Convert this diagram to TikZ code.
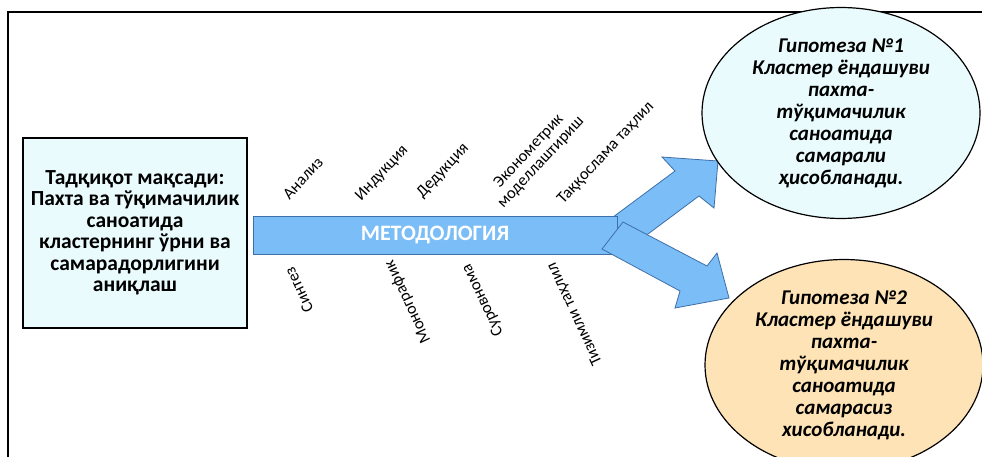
\documentclass[tikz,border=0pt]{standalone}
\usepackage{fontspec}
\setmainfont{Carlito}
\usepackage{tikz}
\usetikzlibrary{shapes.geometric}
\usetikzlibrary{positioning}
\definecolor{goalfill}{HTML}{EAFBFD}
\definecolor{peach}{HTML}{FDE3B5}
\definecolor{bandfill}{HTML}{7BBDF6}
\definecolor{bandline}{HTML}{3F6FA8}
\tikzstyle{goal}=[draw=black, line width=1.5pt, fill=goalfill, minimum width=224pt,
                minimum height=190pt, align=center, font=\fontsize{21.5}{21.5}\selectfont\bfseries]
\tikzstyle{hyp}=[ellipse, draw=black, line width=1.2pt, minimum width=278pt,
                minimum height=172pt, inner sep=0pt, align=center,
                font=\fontsize{21}{22}\selectfont\bfseries\itshape]
\tikzstyle{meth}=[font=\fontsize{16.5}{16.5}\selectfont, align=center, inner sep=1pt]
\tikzstyle{band}=[draw=bandline, line width=0.8pt, fill=bandfill]

\begin{document}
\begin{tikzpicture}[x=1pt,y=-1pt]
\useasboundingbox (0,0) rectangle (982,457);
\draw[line width=2pt] (8,457) -- (8,12) -- (982,12);
\node (goal) at (135,233)[goal]{Тадқиқот мақсади:\\Пахта ва тўқимачилик\\саноатида\\
  кластернинг ўрни ва\\самарадорлигини\\аниқлаш};
\draw[band] (605,223) -- (675,171) -- (662,157) -- (718,161) -- (714,208)
  -- (699,196) -- (648,234) -- (612,245) -- cycle;
\node (bar) at (435,235)[band, minimum width=364pt, minimum height=38pt, inner sep=0pt,
  text=white, font=\fontsize{22}{22}\selectfont\bfseries]{МЕТОДОЛОГИЯ};
\draw[band] (623,222) -- (707,266) -- (717,253) -- (729,298) -- (675,308)
  -- (680,291) -- (602,249) -- cycle;
\node (hypA) at (841,113)[hyp, fill=goalfill]{Гипотеза №1\\Кластер ёндашуви\\пахта-\\
  тўқимачилик\\саноатида\\самарали\\ҳисобланади.};
\node (hypB) at (844,365)[hyp, fill=peach]{Гипотеза №2\\Кластер ёндашуви\\пахта-\\
  тўқимачилик\\саноатида\\самарасиз\\хисобланади.};
% methods above the band
\foreach \n/\x/\y/\t in {1/303/178/Анализ, 2/382/173/Индукция, 3/443/171/Дедукция,
  4/535/157/{Эконометрик\\моделлаштириш}, 5/606/153/Таққослама таҳлил}
\node (up\n) at (\x,\y)[meth, rotate=47]{\t};
% methods below the band
\foreach \n/\x/\y/\t in {1/299/290/Синтез, 2/408/302/Монографик, 3/483/300/Суровнома,
  4/575/314/Тизимли таҳлил}
\node (low\n) at (\x,\y)[meth, rotate=115]{\t};
\end{tikzpicture}
\end{document}
